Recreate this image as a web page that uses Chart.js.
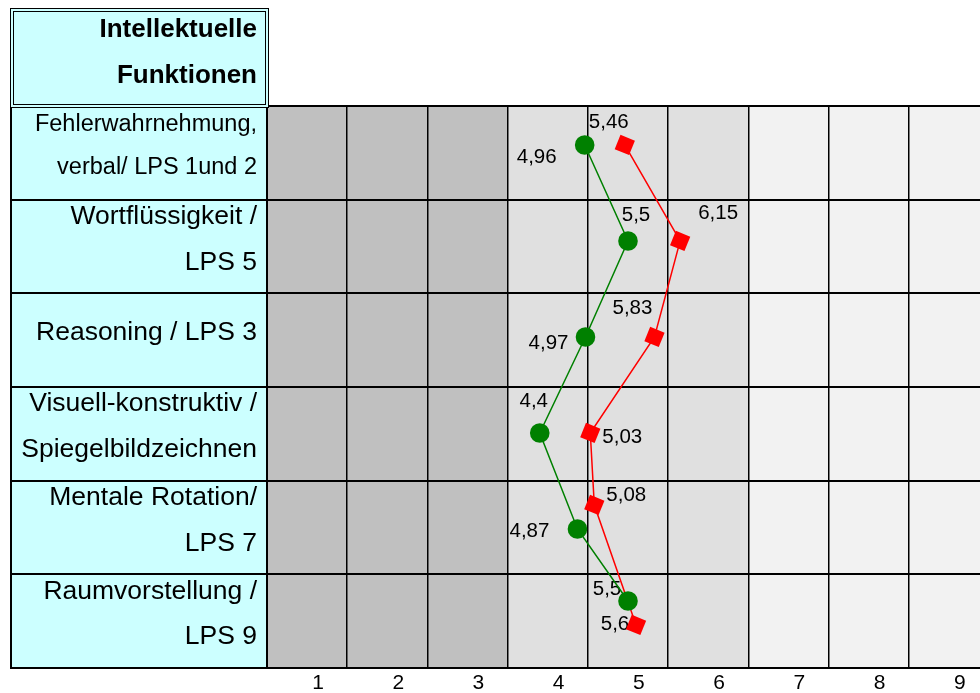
<!DOCTYPE html>
<html>
<head>
<meta charset="utf-8">
<script src="https://cdn.jsdelivr.net/npm/chart.js@4"></script>
<style>
html, body { margin: 0; padding: 0; background: #fff; width: 980px; height: 693px; overflow: hidden; }
#wrap { position: relative; width: 980px; height: 693px; overflow: hidden; }
#c { position: absolute; left: 0; top: 0; }
#hdrBox { position: absolute; left: 10px; top: 8px; width: 259px; height: 100px; box-sizing: border-box;
  border: 4px double #000; background: #CCFFFF; }
#hdrText { position: absolute; left: 0; top: 5px; width: 257px; text-align: right;
  font: bold 26px/46px 'Liberation Sans', Arial, Helvetica, sans-serif; color: #000; }
</style>
</head>
<body>
<div id="wrap">
  <canvas id="c" width="1000" height="693" style="width:1000px;height:693px"></canvas>
  <div id="hdrBox"></div>
  <div id="hdrText">Intellektuelle<br>Funktionen</div>
</div>
<script>
// ---- data ----
const rowLabels = [
  ['Fehlerwahrnehmung,', 'verbal/ LPS 1und 2'],
  ['Wortflüssigkeit /', 'LPS 5'],
  'Reasoning / LPS 3',
  ['Visuell-konstruktiv /', 'Spiegelbildzeichnen'],
  ['Mentale Rotation/', 'LPS 7'],
  ['Raumvorstellung /', 'LPS 9']
];
const tickLabels = ['1', '2', '3', '4', '5', '6', '7', '8', '9'];
const greenValues = [4.96, 5.5, 4.97, 4.4, 4.87, 5.5];
const greenRows   = [1, 2, 3, 4, 5, 5.75];
const redValues   = [5.46, 6.15, 5.83, 5.03, 5.08, 5.6];
const redRows     = [1, 2, 3, 4, 4.75, 6];

// ---- styles / label placement ----
const bandEdges = [1, 4, 7, 10];
const bandColors = ['#C0C0C0', '#E0E0E0', '#F2F2F2'];
const greenLabelOffsets = [[-48, 12], [8, -26], [-37, 6], [-6, -32], [-48, 2], [-21, -12]];
const redLabelOffsets   = [[-16, -23], [38, -28], [-22, -29], [32, 4], [32, -10], [-21, -1]];
const labelOffsets = [greenLabelOffsets, redLabelOffsets];
const FONT = "'Liberation Sans', Arial, Helvetica, sans-serif";

Chart.defaults.font.family = FONT;
Chart.defaults.color = '#000';

const bandPlugin = {
  id: 'bands',
  beforeDraw(chart) {
    const { ctx, chartArea: a, scales: { x, yc } } = chart;
    ctx.save();
    for (let i = 0; i < bandEdges.length - 1; i++) {
      const x0 = x.getPixelForValue(bandEdges[i]);
      const x1 = x.getPixelForValue(bandEdges[i + 1]);
      ctx.fillStyle = bandColors[i];
      ctx.fillRect(x0, a.top, x1 - x0, a.bottom - a.top);
    }
    ctx.fillStyle = '#CCFFFF';
    ctx.fillRect(yc.left, a.top, yc.right - yc.left, a.bottom - a.top);
    ctx.strokeStyle = '#000';
    ctx.lineWidth = 2;
    ctx.beginPath();
    ctx.moveTo(yc.left + 1, a.top);
    ctx.lineTo(yc.left + 1, a.bottom);
    ctx.stroke();
    ctx.restore();
  }
};

const valueLabelPlugin = {
  id: 'valueLabels',
  beforeDatasetsDraw(chart) {
    const ctx = chart.ctx;
    ctx.save();
    ctx.font = '20.5px ' + FONT;
    ctx.fillStyle = '#000';
    ctx.textAlign = 'center';
    ctx.textBaseline = 'middle';
    chart.data.datasets.forEach((ds, di) => {
      const meta = chart.getDatasetMeta(di);
      meta.data.forEach((pt, i) => {
        const off = labelOffsets[di][i];
        const txt = String(ds.data[i].x).replace('.', ',');
        ctx.fillText(txt, pt.x + off[0], pt.y + off[1]);
      });
    });
    ctx.restore();
  }
};

const toPoints = (vals, rows) => vals.map((v, i) => ({ x: v, y: rows[i] }));

new Chart(document.getElementById('c'), {
  type: 'scatter',
  data: {
    datasets: [
      {
        data: toPoints(greenValues, greenRows),
        showLine: true,
        borderColor: '#008000',
        backgroundColor: '#008000',
        borderWidth: 1.5,
        pointStyle: 'circle',
        pointRadius: 9.8,
        pointHoverRadius: 9.8,
        pointBorderWidth: 0,
        tension: 0
      },
      {
        data: toPoints(redValues, redRows),
        showLine: true,
        borderColor: '#FF0000',
        backgroundColor: '#FF0000',
        borderWidth: 1.5,
        pointStyle: 'rect',
        rotation: 22,
        pointRadius: 11,
        pointHoverRadius: 11,
        pointBorderWidth: 0,
        tension: 0
      }
    ]
  },
  options: {
    responsive: false,
    animation: false,
    devicePixelRatio: 1,
    layout: { padding: { left: 10, top: 106, right: 4, bottom: 0 } },
    plugins: { legend: { display: false }, tooltip: { enabled: false } },
    scales: {
      x: {
        type: 'linear',
        position: 'bottom',
        min: 1,
        max: 10,
        afterFit: s => { s.height = 25; },
        grid: { color: '#000', lineWidth: 1.5, drawTicks: false },
        border: { color: '#000', width: 2 },
        ticks: {
          stepSize: 1,
          autoSkip: false,
          maxRotation: 0,
          labelOffset: 51,
          padding: 3,
          font: { size: 21 },
          callback: (v, i) => tickLabels[i] ?? ''
        }
      },
      y: {
        type: 'linear',
        display: false,
        reverse: true,
        min: 0.594,
        max: 6.448
      },
      yc: {
        type: 'category',
        position: 'left',
        labels: rowLabels,
        offset: true,
        afterFit: s => { s.width = 257; },
        grid: { offset: true, color: '#000', lineWidth: 2, drawTicks: true, tickLength: 257 },
        border: { color: '#000', width: 2 },
        ticks: {
          padding: -247,
          labelOffset: -7,
          autoSkip: false,
          font: c => c.index === 0 ? { size: 23.5, lineHeight: 1.85 } : { size: 26.5, lineHeight: 1.72 }
        }
      }
    }
  },
  plugins: [bandPlugin, valueLabelPlugin]
});
</script>
</body>
</html>
